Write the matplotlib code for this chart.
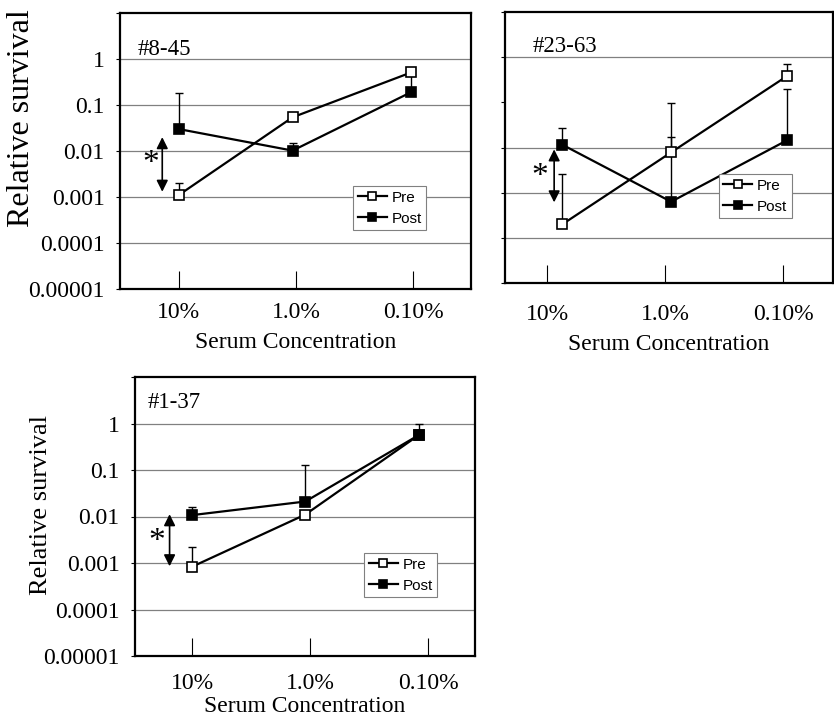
import matplotlib
matplotlib.use("Agg")
import numpy as np
import matplotlib.pyplot as plt

plt.rcParams['font.family'] = ['Liberation Serif', 'DejaVu Serif']

categories = ['10%', '1.0%', '0.10%']
ytick_vals = [1e-5, 1e-4, 1e-3, 1e-2, 1e-1, 1, 10]
ytick_text = ['0.00001', '0.0001', '0.001', '0.01', '0.1', '1', '']

# panel #8-45
p1_x = [0.0, 0.97, 1.98]
p1_pre = [0.0011, 0.054, 0.51]
p1_pre_top = [0.002, 0.054, 0.51]
p1_post = [0.03, 0.0102, 0.19]
p1_post_top = [0.18, 0.015, 0.48]

# panel #23-63
p2_x = [0.13, 1.05, 2.03]
p2_pre = [0.0002, 0.0078, 0.38]
p2_pre_top = [0.0026, 0.097, 0.69]
p2_post = [0.0115, 0.00063, 0.0144]
p2_post_top = [0.027, 0.017, 0.2]

# panel #1-37
p3_x = [0.0, 0.96, 1.92]
p3_pre = [0.00083, 0.011, 0.56]
p3_pre_top = [0.0022, 0.011, 0.56]
p3_post = [0.0107, 0.021, 0.56]
p3_post_top = [0.016, 0.13, 0.97]

W, H = 834, 717
fig = plt.figure(figsize=(W/100., H/100.), dpi=100)

def rect(l, t, r, b):
  return [l/W, (H-b)/H, (r-l)/W, (b-t)/H]

def panel(ax, title, title_pos, x, pre, pre_top, post, post_top, xlim,
          grids, arrow, star, leg_anchor, ylabels, ylabel_size, ylabel_xy,
          xpad, xlabelpad):
  ax.set_yscale('log')
  ax.set_ylim(1e-5, 10)
  ax.set_xlim(*xlim)
  for g in grids:
    ax.axhline(g, color='#808080', lw=0.9, zorder=1)

  pre = np.array(pre); post = np.array(post)
  ax.errorbar(x, pre, yerr=[np.zeros(3), np.array(pre_top)-pre], fmt='none',
              ecolor='k', elinewidth=1.0, capsize=3, capthick=1.0, zorder=2)
  ax.errorbar(x, post, yerr=[np.zeros(3), np.array(post_top)-post], fmt='none',
              ecolor='k', elinewidth=1.0, capsize=3, capthick=1.0, zorder=2)
  ax.plot(x, pre, '-s', color='k', lw=1.6, ms=6.5, mfc='white', mec='k',
          mew=1.2, label='Pre', zorder=3)
  ax.plot(x, post, '-s', color='k', lw=1.6, ms=6.5, mfc='k', mec='k',
          mew=1.2, label='Post', zorder=4)

  # significance arrow and star
  ax.annotate('', xy=(arrow[0], arrow[1]), xytext=(arrow[0], arrow[2]),
              arrowprops=dict(arrowstyle='<|-|>', color='k', lw=1.2,
                              mutation_scale=17, shrinkA=0, shrinkB=0))
  ax.text(star[0], star[1], '*', fontsize=24, ha='center', va='center')
  ax.text(title_pos[0], title_pos[1], title, fontsize=16.5, ha='left',
          va='center', transform=ax.transAxes)

  leg = ax.legend(loc='upper left', bbox_to_anchor=leg_anchor, borderaxespad=0,
                  prop={'family': 'Liberation Sans', 'size': 11},
                  handlelength=1.9, handletextpad=0.3, borderpad=0.3,
                  labelspacing=0.45, fancybox=False, framealpha=1,
                  edgecolor='#808080', markerscale=0.9)
  leg.get_frame().set_linewidth(0.8)

  for s in ax.spines.values():
    s.set_linewidth(1.6)
  ax.set_xticks(range(3))
  ax.set_xticklabels(categories, fontsize=17)
  ax.tick_params(axis='x', direction='in', length=13, width=0.8, pad=xpad)
  ax.set_yticks(ytick_vals)
  ax.minorticks_off()
  ax.tick_params(axis='y', direction='out', length=3, width=0.8, pad=8)
  if ylabels:
    ax.set_yticklabels(ytick_text, fontsize=17)
    ax.set_ylabel('Relative survival', fontsize=ylabel_size)
    ax.yaxis.set_label_coords(*ylabel_xy)
  else:
    ax.set_yticklabels([])
  ax.set_xlabel('Serum Concentration', fontsize=17, labelpad=xlabelpad)

ax1 = fig.add_axes(rect(120, 13, 471, 289))
panel(ax1, '#8-45', (0.05, 0.866), p1_x, p1_pre, p1_pre_top, p1_post, p1_post_top,
      (-0.5, 2.49), [1e-4, 1e-3, 1e-2, 1e-1, 1], (-0.14, 0.02, 0.0013),
      (-0.24, 0.0052), (0.664, 0.373), True, 23, (-0.24, 0.62), 9, 6.5)

ax2 = fig.add_axes(rect(505, 12, 833, 283))
panel(ax2, '#23-63', (0.085, 0.871), p2_x, p2_pre, p2_pre_top, p2_post, p2_post_top,
      (-0.356, 2.42), [1e-4, 1e-3, 1e-2, 1], (0.06, 0.0091, 0.00061),
      (-0.06, 0.0023), (0.652, 0.402), False, 22, (0, 0), 15, 6.5)

ax3 = fig.add_axes(rect(135, 377, 475, 656))
panel(ax3, '#1-37', (0.038, 0.907), p3_x, p3_pre, p3_pre_top, p3_post, p3_post_top,
      (-0.483, 2.398), [1e-4, 1e-3, 1e-2, 1e-1, 1], (-0.19, 0.0112, 0.00085),
      (-0.30, 0.0029), (0.674, 0.369), True, 19, (-0.245, 0.54), 12, 2.0)

fig.savefig('out.png', dpi=100)
